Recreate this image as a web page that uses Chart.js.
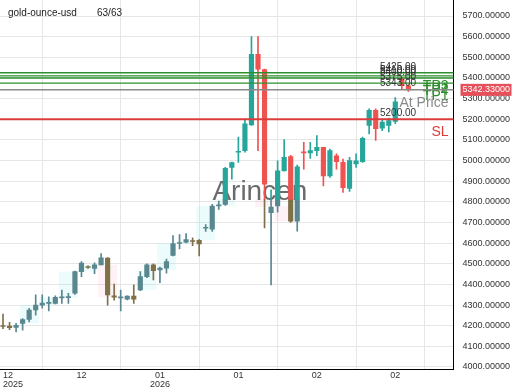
<!DOCTYPE html>
<html>
<head>
<meta charset="utf-8">
<script src="https://cdn.jsdelivr.net/npm/chart.js@4.4.1/dist/chart.umd.min.js"></script>
<style>
html, body { margin: 0; padding: 0; background: #fff; }
#wrap { width: 520px; height: 390px; }
</style>
</head>
<body>
<div id="wrap"><canvas id="chart"></canvas></div>
<script>
// daily candles, oldest first (63 of them)
const opens = [4200, 4198, 4192, 4211, 4230, 4276, 4300, 4308, 4308, 4335,
  4336, 4357, 4462, 4483, 4478, 4495, 4528, 4345, 4335, 4328,
  4344, 4373, 4438, 4495, 4470, 4479, 4540, 4598, 4604, 4610,
  4614, 4672, 4667, 4780, 4788, 4967, 5040, 5048, 5172, 5514,
  5440, 4747, 4780, 4950, 5019, 4706, 5040, 5037, 5048, 5064,
  4926, 5023, 4991, 4865, 4983, 4994, 5170, 5243, 5157, 5170,
  5189, 5395, 5362];
const highs = [4256, 4216, 4211, 4235, 4284, 4349, 4349, 4340, 4345, 4373,
  4357, 4465, 4511, 4490, 4505, 4549, 4530, 4401, 4373, 4345,
  4398, 4462, 4500, 4500, 4484, 4523, 4637, 4641, 4646, 4625,
  4617, 4690, 4788, 4804, 4967, 4993, 5113, 5202, 5600, 5600,
  5443, 4858, 4999, 5101, 5025, 4978, 5088, 5088, 5121, 5064,
  5056, 5032, 5007, 5015, 5032, 5113, 5251, 5251, 5202, 5206,
  5305, 5402, 5368];
const lows = [4186, 4181, 4170, 4178, 4218, 4251, 4285, 4271, 4305, 4308,
  4308, 4352, 4438, 4478, 4452, 4495, 4300, 4324, 4272, 4325,
  4308, 4370, 4433, 4422, 4409, 4455, 4538, 4572, 4601, 4588,
  4538, 4657, 4657, 4763, 4783, 4910, 4991, 5040, 5170, 5048,
  4674, 4398, 4750, 4950, 4700, 4658, 4958, 5010, 5023, 4877,
  4918, 4958, 4845, 4850, 4967, 4991, 5129, 5097, 5145, 5138,
  5178, 5347, 5335];
const closes = [4196, 4191, 4202, 4230, 4276, 4300, 4310, 4310, 4338, 4337,
  4338, 4462, 4503, 4482, 4495, 4529, 4349, 4338, 4340, 4344,
  4328, 4438, 4495, 4467, 4479, 4511, 4598, 4601, 4617, 4608,
  4596, 4675, 4779, 4785, 4962, 4990, 5045, 5178, 5514, 5443,
  4886, 4775, 4950, 5015, 4706, 4970, 5037, 5048, 5064, 4926,
  5048, 4994, 4869, 5000, 4999, 5108, 5243, 5154, 5186, 5194,
  5284, 5362, 5342.33];

const tickIndex = [0, 12, 24, 36, 48, 60];
const tickLabels = [["12", "2025"], "12", ["01", "2026"], "01", "02", "02"];
const yTicks = [4000, 4100, 4200, 4300, 4400, 4500, 4600, 4700, 4800,
  4900, 5000, 5100, 5200, 5300, 5400, 5500, 5600, 5700];

const levelPrices = [5425, 5410, 5400, 5375, 5343, 5200];
const levelNames = ["TP3", "TP2", "TP4", "TP1", "At Price", "SL"];
const lastPrice = 5342.33;
const symbol = "gold-ounce-usd";
const counter = "63/63";

const FONT = "'Liberation Sans', Arial, sans-serif";
const UP = "#26a69a", DOWN = "#ef5350";
const UP_DIM = "#588790", DOWN_DIM = "#7f7048";
// older part of the chart sits under a dimmed zone
const dimBelow = 4812, dimUntil = 45;
const X_MIN = -0.46, X_MAX = 68.9;

const parts = { wickB: [], wickD: [], bodyB: [], bodyD: [] };
const cols = { wickB: [], wickD: [], bodyB: [], bodyD: [] };
opens.forEach((o, i) => {
  const c = closes[i];
  const up = c >= o;
  const lim = i <= dimUntil ? dimBelow : -Infinity;
  const split = (a, b, kind) => {
    if (b > lim || a === b && a >= lim) {
      parts[kind + "B"].push({ x: i, y: [Math.max(a, lim), b] });
      cols[kind + "B"].push(up ? UP : DOWN);
    }
    if (a < lim) {
      parts[kind + "D"].push({ x: i, y: [a, Math.min(b, lim)] });
      cols[kind + "D"].push(up ? UP_DIM : DOWN_DIM);
    }
  };
  split(lows[i], highs[i], "wick");
  split(Math.min(o, c), Math.max(o, c), "body");
});

const bodySet = key => ({
  data: parts[key], backgroundColor: cols[key], barThickness: 4.5,
  minBarLength: 1, grouped: false, order: 0,
});
const wickSet = key => ({
  data: parts[key], backgroundColor: cols[key], barThickness: 1,
  grouped: false, order: 1,
});

const levelColor = name =>
  name === "SL" ? "#dc3c3c" : name === "At Price" ? "#8a8a8a" : "#2f8f2f";

const overlay = {
  id: "overlay",
  beforeDatasetsDraw(chart) {
    const { ctx, chartArea: a, scales } = chart;
    const { x, y } = scales;
    ctx.save();
    // faint 3-day shading behind the older candles, only inside the dimmed zone
    ctx.beginPath();
    ctx.rect(a.left, y.getPixelForValue(dimBelow), x.getPixelForValue(dimUntil + 0.5) - a.left, a.bottom);
    ctx.clip();
    for (let s = 0; s + 2 <= dimUntil; s += 3) {
      const o = opens[s], c = closes[s + 2];
      const x0 = x.getPixelForValue(s - 0.45), x1 = x.getPixelForValue(s + 2.45);
      const y0 = y.getPixelForValue(Math.max(o, c)), y1 = y.getPixelForValue(Math.min(o, c));
      ctx.fillStyle = c >= o ? "rgba(120,235,235,0.14)" : "rgba(255,140,170,0.11)";
      ctx.fillRect(x0, y0, x1 - x0, y1 - y0);
    }
    ctx.restore();
    ctx.save();
    ctx.font = `28px ${FONT}`;
    ctx.fillStyle = "rgba(70,70,70,0.8)";
    ctx.textAlign = "center";
    ctx.textBaseline = "middle";
    ctx.fillText("Arincen", a.left + a.width * 0.573, 192);
    ctx.restore();
  },
  afterDatasetsDraw(chart) {
    const { ctx, chartArea: a, scales } = chart;
    const y = scales.y;
    ctx.save();
    levelPrices.forEach((p, i) => {
      const py = y.getPixelForValue(p);
      const col = levelColor(levelNames[i]);
      ctx.strokeStyle = col;
      ctx.lineWidth = levelNames[i] === "SL" ? 1.8 : 1.4;
      ctx.beginPath();
      ctx.moveTo(a.left, py);
      ctx.lineTo(a.right, py);
      ctx.stroke();
      ctx.font = `10px ${FONT}`;
      ctx.fillStyle = "#333";
      ctx.textAlign = "left";
      ctx.textBaseline = "bottom";
      ctx.fillText(p.toFixed(2), 380, py - 1);
      ctx.font = `14px ${FONT}`;
      ctx.fillStyle = col;
      ctx.textAlign = "right";
      ctx.textBaseline = "top";
      ctx.fillText(levelNames[i], a.right - 5, py + 6);
    });
    // last price tag on the axis
    const ly = y.getPixelForValue(lastPrice);
    ctx.fillStyle = "#e5505a";
    ctx.fillRect(a.right + 7, ly - 6, 51, 12);
    ctx.font = `9px ${FONT}`;
    ctx.fillStyle = "#fff";
    ctx.textAlign = "left";
    ctx.textBaseline = "middle";
    ctx.fillText(lastPrice.toFixed(5), a.right + 9, ly);
    // symbol header
    ctx.font = `10px ${FONT}`;
    ctx.fillStyle = "#222";
    ctx.fillText(symbol, 8, 13);
    ctx.fillText(counter, 97, 13);
    ctx.restore();
  },
};

new Chart(document.getElementById("chart"), {
  type: "bar",
  data: {
    datasets: [bodySet("bodyB"), bodySet("bodyD"), wickSet("wickB"), wickSet("wickD")],
  },
  plugins: [overlay],
  options: {
    responsive: true,
    maintainAspectRatio: false,
    animation: false,
    layout: { padding: 0 },
    plugins: { legend: { display: false }, tooltip: { enabled: false } },
    scales: {
      x: {
        type: "linear",
        offset: false,
        min: X_MIN,
        max: X_MAX,
        // trailing empty tick at the right edge keeps the last date label centred
        afterBuildTicks: s => {
          s.ticks = tickIndex.concat([X_MAX]).map(v => ({ value: v }));
        },
        afterFit: s => { s.height = 21; s.paddingLeft = 0; s.paddingRight = 0; },
        grid: { color: "#e6e6e6", drawTicks: false },
        border: { display: true, color: "#000", width: 1 },
        ticks: {
          autoSkip: false, maxRotation: 0, padding: 2, color: "#333", align: "inner",
          font: { size: 9, family: FONT, lineHeight: 1 },
          callback: v => {
            const k = tickIndex.indexOf(v);
            return k < 0 ? "" : tickLabels[k];
          },
        },
      },
      y: {
        position: "right",
        min: 3990.3,
        max: 5777.5,
        afterBuildTicks: s => { s.ticks = yTicks.map(v => ({ value: v })); },
        afterFit: s => { s.width = 66.5; s.paddingTop = 0; s.paddingBottom = 0; },
        grid: { color: "#e6e6e6", drawTicks: false },
        border: { display: true, color: "#000", width: 1 },
        ticks: {
          padding: 9, color: "#333",
          font: { size: 9, family: FONT },
          callback: v => v.toFixed(5),
        },
      },
    },
  },
});
</script>
</body>
</html>
